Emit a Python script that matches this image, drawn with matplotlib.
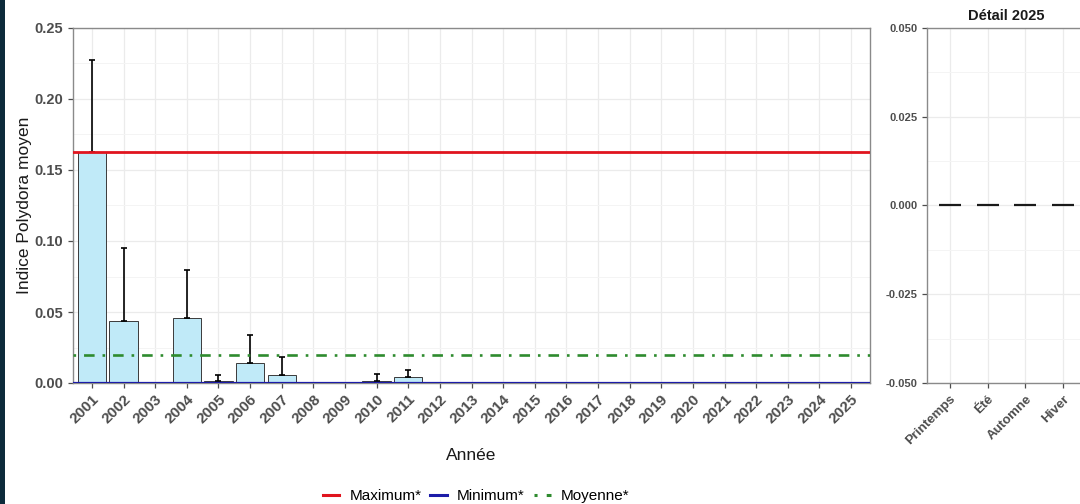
import numpy as np
import matplotlib
matplotlib.use("Agg")
import matplotlib.pyplot as plt
from matplotlib.patches import Rectangle
from matplotlib.lines import Line2D

plt.rcParams['font.family'] = ['Liberation Sans', 'DejaVu Sans']

# données annuelles
annees = list(range(2001, 2026))
moyennes = [0.1627, 0.0437, 0.0, 0.0458, 0.0015, 0.0143, 0.0058, 0.0, 0.0, 0.0015,
            0.0045, 0, 0, 0, 0, 0, 0, 0, 0, 0, 0, 0, 0, 0, 0]
ecarts = [0.0648, 0.0513, 0.0, 0.0338, 0.0043, 0.0197, 0.0127, 0.0, 0.0, 0.0045,
          0.0048, 0, 0, 0, 0, 0, 0, 0, 0, 0, 0, 0, 0, 0, 0]

# lignes de référence
val_max = 0.1627
val_min = 0.0
val_moy = 0.0197

# détail 2025
saisons = ['Printemps', 'Été', 'Automne', 'Hiver']
valeurs_2025 = [0.0, 0.0, 0.0, 0.0]

tick_col = '#4d4d4d'
grid_col = '#ebebeb'
border_col = '#8a8a8a'

fig = plt.figure(figsize=(10.8, 5.04), dpi=100)

# bande sombre à gauche
fig.patches.append(Rectangle((0, 0), 5 / 1080, 1, transform=fig.transFigure,
                             facecolor='#0d2b3b', edgecolor='none', zorder=10))

ax = fig.add_axes([73 / 1080, 1 - 383 / 504, 797 / 1080, 355 / 504])
x = np.arange(len(annees))
moy = np.array(moyennes)
sd = np.array(ecarts)

ax.bar(x, moy, width=0.9, color='#c0eaf8', edgecolor='#3a3a3a', linewidth=0.7, zorder=2)
m = sd > 0
ax.errorbar(x[m], moy[m], yerr=[np.zeros(m.sum()), sd[m]], fmt='none',
            ecolor='black', elinewidth=1.2, capsize=2.5, capthick=1.2, zorder=3)

ax.axhline(val_max, color='#e0141e', linewidth=2.0, zorder=4)
ax.axhline(val_min, color='#1c1ca8', linewidth=1.6, zorder=4)
ax.axhline(val_moy, color='#2e8b2e', linewidth=1.9, linestyle=(0, (1, 3, 4, 3)), zorder=4)

ax.set_xlim(-0.6, len(annees) - 0.4)
ax.set_ylim(0, 0.25)
ax.set_xticks(x)
ax.set_xticklabels([str(a) for a in annees], rotation=45, ha='right',
                   rotation_mode='anchor', fontsize=11, fontweight='bold', color=tick_col)
ax.set_yticks([0, 0.05, 0.10, 0.15, 0.20, 0.25])
ax.set_yticklabels(['0.00', '0.05', '0.10', '0.15', '0.20', '0.25'],
                   fontsize=10.5, fontweight='bold', color=tick_col)
ax.set_yticks([0.025, 0.075, 0.125, 0.175, 0.225], minor=True)
ax.tick_params(axis='both', which='major', length=3.5, color=tick_col, width=0.9)
ax.tick_params(axis='x', pad=3)
ax.tick_params(axis='y', which='minor', length=0)
ax.grid(True, which='major', color=grid_col, linewidth=0.9, zorder=0)
ax.grid(True, which='minor', axis='y', color='#f4f4f4', linewidth=0.7, zorder=0)
ax.set_axisbelow(True)
for s in ax.spines.values():
    s.set_color(border_col)
    s.set_linewidth(1.0)

fig.text(25 / 1080, 1 - 205 / 504, 'Indice Polydora moyen', rotation=90,
         ha='center', va='center', fontsize=12.5, color='#1a1a1a')
fig.text(471 / 1080, 1 - 455 / 504, 'Année', ha='center', va='center',
         fontsize=12.5, color='#1a1a1a')

# panneau détail
ax2 = fig.add_axes([927 / 1080, 1 - 383 / 504, 159 / 1080, 355 / 504])
xs = np.arange(len(saisons))
ax2.bar(xs, valeurs_2025, width=0.58, color='#c0eaf8', edgecolor='#1a1a1a',
        linewidth=1.6, zorder=2)
ax2.set_xlim(-0.6, len(saisons) - 0.4)
ax2.set_ylim(-0.05, 0.05)
ax2.set_xticks(xs)
ax2.set_xticklabels(saisons, rotation=45, ha='right', rotation_mode='anchor',
                    fontsize=9.5, fontweight='bold', color=tick_col)
ax2.set_yticks([-0.05, -0.025, 0, 0.025, 0.05])
ax2.set_yticklabels(['-0.050', '-0.025', '0.000', '0.025', '0.050'],
                    fontsize=8, fontweight='bold', color=tick_col)
ax2.set_yticks([-0.0375, -0.0125, 0.0125, 0.0375], minor=True)
ax2.tick_params(axis='both', which='major', length=3.5, color=tick_col, width=0.9)
ax2.tick_params(axis='y', which='minor', length=0)
ax2.grid(True, which='major', color=grid_col, linewidth=0.9, zorder=0)
ax2.grid(True, which='minor', axis='y', color='#f4f4f4', linewidth=0.7, zorder=0)
ax2.set_axisbelow(True)
for s in ax2.spines.values():
    s.set_color(border_col)
    s.set_linewidth(1.0)
ax2.set_title('Détail 2025', fontsize=10.5, fontweight='bold', color='#1a1a1a', pad=6)

# légende
handles = [Line2D([], [], color='#e0141e', linewidth=2.2),
           Line2D([], [], color='#1c1ca8', linewidth=2.2),
           Line2D([], [], color='#2e8b2e', linewidth=2.2, linestyle=(0, (1, 3, 4, 3)))]
fig.legend(handles, ['Maximum*', 'Minimum*', 'Moyenne*'], loc='center',
           bbox_to_anchor=(476 / 1080, 1 - 496 / 504), ncol=3, frameon=False,
           fontsize=11, handlelength=1.1, columnspacing=0.6, handletextpad=0.65)

fig.savefig('out.png', dpi=100)
